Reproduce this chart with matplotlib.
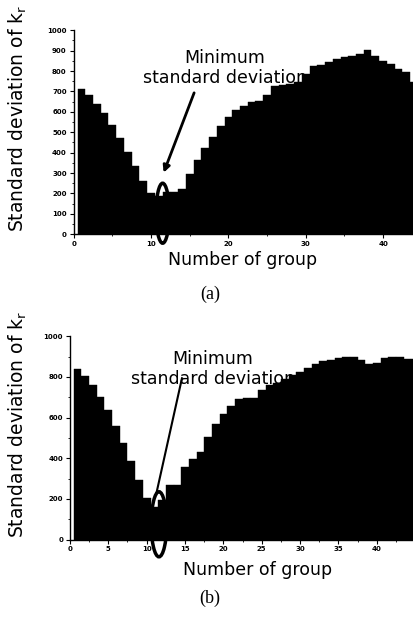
import numpy as np
import matplotlib
matplotlib.use('Agg')
import matplotlib.pyplot as plt
from matplotlib.patches import Ellipse
from matplotlib.ticker import MultipleLocator

# standard deviation of k_r per number of group, panel (a)
groups_a = list(range(1, 45))
std_a = [710, 684, 640, 592, 535, 471, 403, 334, 263, 202,
         185, 205, 207, 222, 293, 362, 425, 478, 531, 574,
         607, 631, 648, 651, 684, 726, 732, 739, 747, 788,
         825, 828, 846, 858, 868, 876, 883, 901, 874, 850,
         833, 810, 793, 747]

# panel (b)
groups_b = list(range(1, 46))
std_b = [840, 804, 758, 703, 636, 560, 477, 387, 294, 206,
         159, 192, 270, 266, 359, 395, 428, 503, 569, 619,
         657, 692, 697, 697, 734, 760, 770, 791, 808, 824,
         845, 865, 878, 884, 891, 900, 896, 884, 865, 868,
         892, 900, 897, 886, 886]

ylabel = 'Standard deviation of k$_\\mathregular{r}$'
xlabel = 'Number of group'
note = 'Minimum\nstandard deviation'

fig = plt.figure(figsize=(4.14, 6.18), dpi=100)
ax1 = fig.add_axes([0.178, 0.621, 0.822, 0.330])
ax2 = fig.add_axes([0.169, 0.127, 0.831, 0.329])


def style(ax, xmax, xmaj, xmin, ymaj, ymin):
    ax.set_xlim(0, xmax)
    ax.set_ylim(0, 1000)
    for s in ['top', 'right']:
        ax.spines[s].set_visible(False)
    ax.spines['left'].set_linewidth(1.0)
    ax.spines['bottom'].set_linewidth(1.0)
    ax.xaxis.set_major_locator(MultipleLocator(xmaj))
    ax.xaxis.set_minor_locator(MultipleLocator(xmin))
    ax.yaxis.set_major_locator(MultipleLocator(ymaj))
    ax.yaxis.set_minor_locator(MultipleLocator(ymin))
    ax.tick_params(which='major', direction='out', length=3, width=0.8,
                   labelsize=5, pad=2)
    ax.tick_params(which='minor', direction='out', length=1.5, width=0.6)
    for lab in ax.get_xticklabels() + ax.get_yticklabels():
        lab.set_fontweight('bold')


# (a)
ax1.bar(groups_a, std_a, width=1.0, color='black', edgecolor='black',
        linewidth=0.3, zorder=2)
style(ax1, 44, 10, 5, 100, 50)
ax1.text(19.5, 815, note, ha='center', va='center', fontsize=12.5,
         linespacing=1.15, zorder=1)
ax1.annotate('', xy=(11.5, 289), xytext=(15.7, 706),
             arrowprops=dict(arrowstyle='-|>', color='black', lw=2,
                             mutation_scale=10), zorder=3)
ax1.add_patch(Ellipse((11.5, 103), 1.7, 294, fill=False, ec='black',
                      lw=2.5, clip_on=False, zorder=4))
fig.text(0.043, 0.809, ylabel, rotation=90, ha='center', va='center',
         fontsize=13.5)
fig.text(243 / 414, 1 - 260 / 618, xlabel, ha='center', va='center',
         fontsize=12.5)
fig.text(210 / 414, 1 - 294 / 618, '(a)', ha='center', va='center',
         fontsize=13, family='Liberation Serif')

# (b)
ax2.bar(groups_b, std_b, width=1.0, color='black', edgecolor='black',
        linewidth=0.3, zorder=2)
style(ax2, 44.85, 5, 2.5, 200, 100)
ax2.text(18.6, 840, note, ha='center', va='center', fontsize=12.5,
         linespacing=1.15, zorder=1)
ax2.plot([14.6, 11.3], [793, 233], color='black', lw=1.5, zorder=3)
ax2.add_patch(Ellipse((11.6, 75), 2.0, 320, fill=False, ec='black',
                      lw=2.5, clip_on=False, zorder=4))
fig.text(0.043, 0.314, ylabel, rotation=90, ha='center', va='center',
         fontsize=13.5)
fig.text(258 / 414, 1 - 570 / 618, xlabel, ha='center', va='center',
         fontsize=12.5)
fig.text(210 / 414, 1 - 598 / 618, '(b)', ha='center', va='center',
         fontsize=13, family='Liberation Serif')

fig.savefig('out.png', dpi=100)
